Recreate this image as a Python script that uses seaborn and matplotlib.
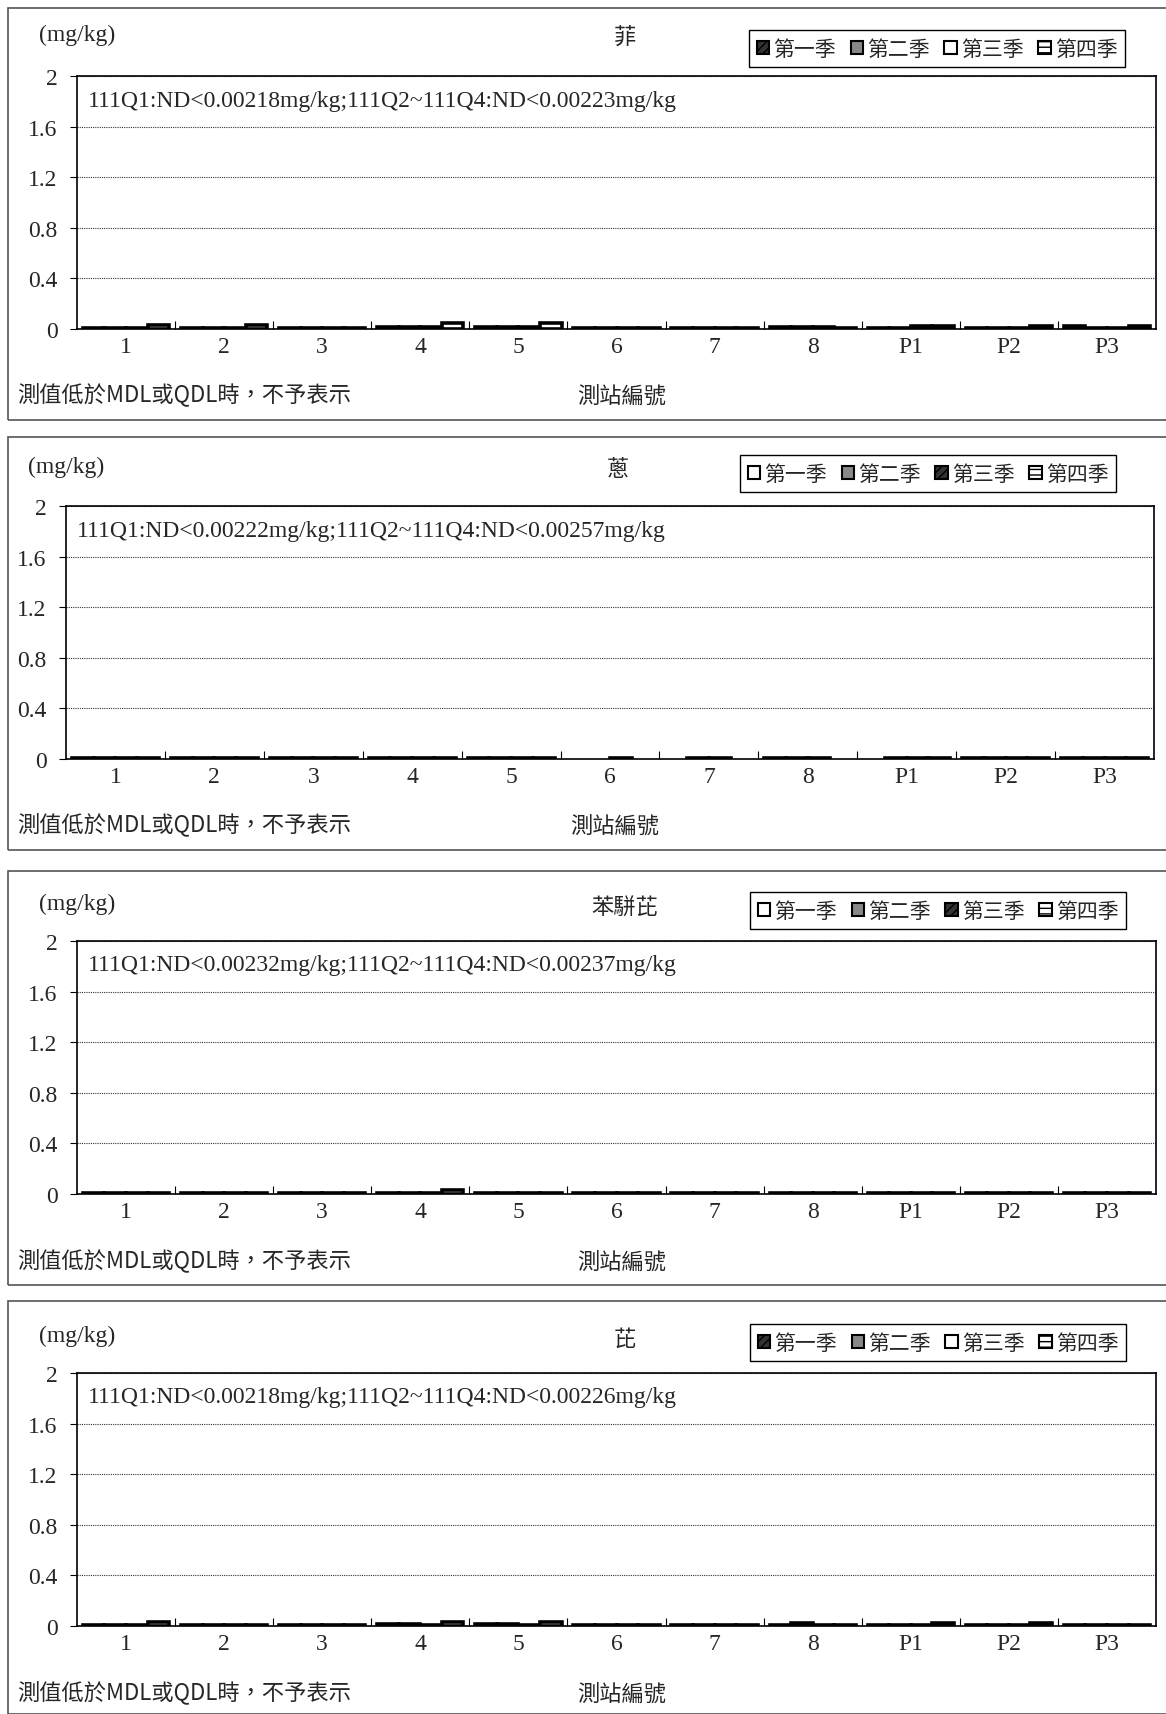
import numpy as np
import pandas as pd
import matplotlib
matplotlib.use("Agg")
import matplotlib.pyplot as plt
from matplotlib.patches import Patch, Rectangle
import seaborn as sns

sns.set_theme(style="white")
plt.rcParams["font.family"] = ["Liberation Serif", "Noto Sans CJK TC"]
plt.rcParams["hatch.linewidth"] = 1.0

stations = ["1", "2", "3", "4", "5", "6", "7", "8", "P1", "P2", "P3"]
quarters = ["第一季", "第二季", "第三季", "第四季"]
yticks = [0, 0.4, 0.8, 1.2, 1.6, 2]
ytick_labels = ["0", "0.4", "0.8", "1.2", "1.6", "2"]

titles = ["菲", "蔥", "苯駢芘", "芘"]
notes = [
    "111Q1:ND<0.00218mg/kg;111Q2~111Q4:ND<0.00223mg/kg",
    "111Q1:ND<0.00222mg/kg;111Q2~111Q4:ND<0.00257mg/kg",
    "111Q1:ND<0.00232mg/kg;111Q2~111Q4:ND<0.00237mg/kg",
    "111Q1:ND<0.00218mg/kg;111Q2~111Q4:ND<0.00226mg/kg",
]

n = np.nan
# values per quarter (rows) for stations 1..8, P1..P3
fei = [
    [0.004, 0.004, 0.004, 0.018, 0.018, 0.004, 0.004, 0.018, 0.004, 0.004, 0.025],
    [0.004, 0.004, 0.004, 0.018, 0.018, 0.004, 0.004, 0.018, 0.004, 0.004, 0.004],
    [0.004, 0.004, 0.004, 0.018, 0.018, 0.004, 0.004, 0.018, 0.025, 0.004, 0.004],
    [0.03, 0.03, 0.004, 0.045, 0.045, 0.004, 0.004, 0.004, 0.025, 0.025, 0.025],
]
cong = [
    [0.004, 0.004, 0.004, 0.004, 0.004, n, n, 0.004, n, 0.004, 0.004],
    [0.004, 0.004, 0.004, 0.004, 0.004, n, 0.004, 0.004, 0.004, 0.004, 0.004],
    [0.004, 0.004, 0.004, 0.004, 0.004, 0.004, 0.004, 0.004, 0.004, 0.004, 0.004],
    [0.004, 0.004, 0.004, 0.004, 0.004, n, n, n, 0.004, 0.004, 0.004],
]
benzo = [
    [0.004, 0.004, 0.004, 0.004, 0.004, 0.004, 0.004, 0.004, 0.004, 0.004, 0.004],
    [0.004, 0.004, 0.004, 0.004, 0.004, 0.004, 0.004, 0.004, 0.004, 0.004, 0.004],
    [0.004, 0.004, 0.004, 0.004, 0.004, 0.004, 0.004, 0.004, 0.004, 0.004, 0.004],
    [0.004, 0.004, 0.004, 0.03, 0.004, 0.004, 0.004, 0.004, 0.004, 0.004, 0.004],
]
pyrene = [
    [0.004, 0.004, 0.004, 0.018, 0.018, 0.004, 0.004, 0.004, 0.004, 0.004, 0.004],
    [0.004, 0.004, 0.004, 0.018, 0.018, 0.004, 0.004, 0.025, 0.004, 0.004, 0.004],
    [0.004, 0.004, 0.004, 0.004, 0.004, 0.004, 0.004, 0.004, 0.004, 0.004, 0.004],
    [0.03, 0.004, 0.004, 0.03, 0.03, 0.004, 0.004, 0.004, 0.025, 0.025, 0.004],
]
panels = [fei, cong, benzo, pyrene]

# legend swatch styles (face, hatch) per panel
style_a = [("#333333", "////"), ("#888888", ""), ("white", ""), ("white", "---")]
style_b = [("white", ""), ("#888888", ""), ("#333333", "////"), ("white", "---")]
legend_styles = [style_a, style_b, style_b, style_a]

W, H = 1166, 1715
fig = plt.figure(figsize=(W / 100, H / 100), dpi=100)

# layout in pixels
frame_top = [9, 438, 872, 1302]
frame_bot = [421, 851, 1286, 1715]
ax_top = [77, 507, 942, 1374]
ax_left = [77, 66, 77, 77]
ax_right = [1156, 1154, 1156, 1156]
ax_h = 253
title_y = [38, 470, 907, 1339]
legend_xy = [(739, 21), (730, 446), (740, 883), (740, 1315)]
foot_y = [394, 824, 1260, 1692]


def fx(px):
    return px / W


def fy(py):
    return 1 - py / H


for i, vals in enumerate(panels):
    # panel frame
    fig.add_artist(Rectangle((fx(8), fy(frame_bot[i])), fx(1166 - 8) + 0.01,
                             (frame_bot[i] - frame_top[i]) / H,
                             transform=fig.transFigure, fill=False,
                             edgecolor="#555555", linewidth=1.2))

    ax = fig.add_axes([fx(ax_left[i]), fy(ax_top[i] + ax_h),
                       (ax_right[i] - ax_left[i]) / W, ax_h / H])
    rows = []
    for q, qv in zip(quarters, vals):
        for s, v in zip(stations, qv):
            rows.append({"station": s, "quarter": q, "value": v})
    df = pd.DataFrame(rows)
    sns.barplot(data=df, x="station", y="value", hue="quarter",
                order=stations, hue_order=quarters,
                palette=["white"] * 4, edgecolor="black", linewidth=2.6,
                width=0.88, gap=0, legend=False, ax=ax)

    ax.set_xlim(-0.5, len(stations) - 0.5)
    ax.set_ylim(0, 2)
    ax.set_yticks(yticks, ytick_labels, fontsize=17)
    ax.set_xticks(range(len(stations)), stations, fontsize=17)
    ax.set_xticks(np.arange(0.5, len(stations) - 1, 1), minor=True)
    ax.tick_params(axis="x", which="major", length=0, pad=5)
    ax.tick_params(axis="x", which="minor", direction="in", length=6,
                   width=0.8, color="black", bottom=True)
    ax.tick_params(axis="y", length=5, width=0.8, color="black",
                   left=True, pad=9)
    ax.set_xlabel("")
    ax.set_ylabel("")
    ax.yaxis.grid(True, linestyle=(0, (1, 1)), color="#333333", linewidth=0.8)
    ax.set_axisbelow(True)
    for sp in ax.spines.values():
        sp.set_color("black")
        sp.set_linewidth(1.2)

    ax.text(11 / (ax_right[i] - ax_left[i]), 1 - 24 / ax_h, notes[i],
            transform=ax.transAxes, fontsize=17, ha="left", va="center")

    fig.text(fx(ax_left[i]), fy(title_y[i] - 3), "(mg/kg)", fontsize=17,
             ha="center", va="center")
    fig.text(fx((ax_left[i] + ax_right[i]) / 2 + 8), fy(title_y[i]),
             titles[i], fontsize=16, ha="center", va="center",
             family=["Noto Sans CJK TC"])
    fig.text(fx(17), fy(foot_y[i]), "測值低於MDL或QDL時，不予表示",
             fontsize=16, ha="left", va="center", family=["Noto Sans CJK TC"])
    fig.text(fx((ax_left[i] + ax_right[i]) / 2 + 5), fy(foot_y[i] + 2),
             "測站編號", fontsize=16, ha="center", va="center",
             family=["Noto Sans CJK TC"])

    handles = [Patch(facecolor=fc, edgecolor="black", hatch=ht, linewidth=1.5,
                     label=q)
               for (fc, ht), q in zip(legend_styles[i], quarters)]
    lx, ly = legend_xy[i]
    leg = fig.legend(handles=handles, loc="upper left",
                     bbox_to_anchor=(fx(lx), fy(ly)), ncol=4, frameon=True,
                     fancybox=False, framealpha=1, edgecolor="black",
                     prop={"family": "Noto Sans CJK TC", "size": 15},
                     handlelength=0.6, handleheight=0.6, handletextpad=0.2,
                     columnspacing=0.7, borderpad=0.35)
    leg.get_frame().set_linewidth(1.0)

fig.savefig("out.png", dpi=100)
